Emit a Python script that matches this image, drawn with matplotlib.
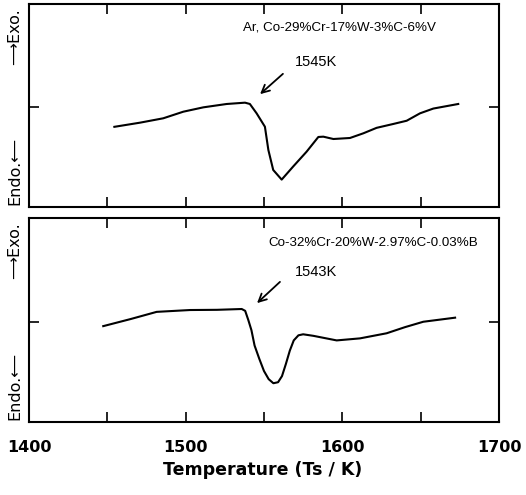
import matplotlib
matplotlib.use("Agg")
import matplotlib.pyplot as plt

# Top panel: Ar, Co-29%Cr-17%W-3%C-6%V
temp_top = [1454.5, 1470.9, 1485.7, 1498.5, 1511.3, 1526.2, 1537.9, 1541, 1545.3, 1550.6, 1552.8, 1555.9,
            1561.3, 1568.7, 1577.2, 1584.7, 1587.9, 1594.3, 1604.9, 1613.4, 1621.9, 1632.5, 1641.1, 1649.6,
            1658.1, 1674]
dta_top = [-0.21, -0.169, -0.126, -0.061, -0.018, 0.015, 0.028, 0.015, -0.077, -0.209, -0.438, -0.635,
           -0.73, -0.60, -0.455, -0.31, -0.307, -0.33, -0.32, -0.274, -0.22, -0.182, -0.15, -0.077,
           -0.03, 0.015]

# Bottom panel: Co-32%Cr-20%W-2.97%C-0.03%B
temp_bot = [1447.4, 1465, 1481.5, 1502.8, 1520, 1535.8, 1538, 1540, 1542, 1544, 1547, 1550, 1553, 1556,
            1559, 1561.5, 1564, 1566.5, 1569, 1572, 1575, 1581.5, 1596.4, 1611.3, 1628.3, 1640, 1651.7, 1672]
dta_bot = [-0.06, 0.01, 0.08, 0.098, 0.10, 0.108, 0.09, 0.0, -0.1, -0.25, -0.38, -0.5, -0.58, -0.62,
           -0.61, -0.55, -0.43, -0.3, -0.2, -0.15, -0.14, -0.155, -0.20, -0.18, -0.13, -0.07, -0.017, 0.023]

x_ticks = [1400, 1450, 1500, 1550, 1600, 1650, 1700]
x_ticklabels = ["1400", "", "1500", "", "1600", "", "1700"]

fig = plt.figure(figsize=(5.26, 4.95), dpi=100)
ax1 = fig.add_axes([0.0551, 0.5818, 0.8935, 0.4101])
ax2 = fig.add_axes([0.0551, 0.1475, 0.8935, 0.4120])

panels = [
    (ax1, temp_top, dta_top, "Ar, Co-29%Cr-17%W-3%C-6%V", (243, 27), "1545K", (295, 62), (285, 72), (258, 96)),
    (ax2, temp_bot, dta_bot, "Co-32%Cr-20%W-2.97%C-0.03%B", (268, 243), "1543K", (295, 272), (282, 280), (255, 305)),
]

W, H = 526, 495
for ax, t, v, label, lpos, ann, apos, afrom, ato in panels:
    ax.plot(t, v, color="black", lw=1.5, solid_joinstyle="round")
    ax.set_xlim(1400, 1700)
    ax.set_ylim(-1, 1)
    ax.set_xticks(x_ticks)
    ax.set_yticks([-0.015])
    ax.set_yticklabels([])
    ax.tick_params(direction="in", length=7, width=1.2, top=True, right=True, bottom=True, left=True)
    for s in ax.spines.values():
        s.set_linewidth(1.5)
    fig.text(lpos[0] / W, 1 - lpos[1] / H, label, fontsize=9.6, va="center", ha="left",
             family="Liberation Sans")
    fig.text(apos[0] / W, 1 - apos[1] / H, ann, fontsize=10.5, va="center", ha="left",
             family="Liberation Sans")
    ax.annotate("", xy=(ato[0] / W, 1 - ato[1] / H), xycoords="figure fraction",
                xytext=(afrom[0] / W, 1 - afrom[1] / H), textcoords="figure fraction",
                arrowprops=dict(arrowstyle="->", color="black", lw=1.3, mutation_scale=14))
    # Y-axis direction labels
    y0 = ax.get_position().y0
    y1 = ax.get_position().y1
    fig.text(0.028, y1 - 0.008, "\u27f6Exo.", rotation=90, fontsize=11.5, va="top", ha="center")
    fig.text(0.028, y0 + 0.005, "Endo.\u27f5", rotation=90, fontsize=11.5, va="bottom", ha="center")

ax1.set_xticklabels([])
ax2.set_xticklabels(x_ticklabels, fontsize=11.5, fontweight="bold")
ax2.tick_params(axis="x", pad=13)
fig.text(0.5, 1 - 470 / H, "Temperature (Ts / K)", fontsize=12.5, fontweight="bold",
         ha="center", va="center")

fig.savefig("out.png", dpi=100)
